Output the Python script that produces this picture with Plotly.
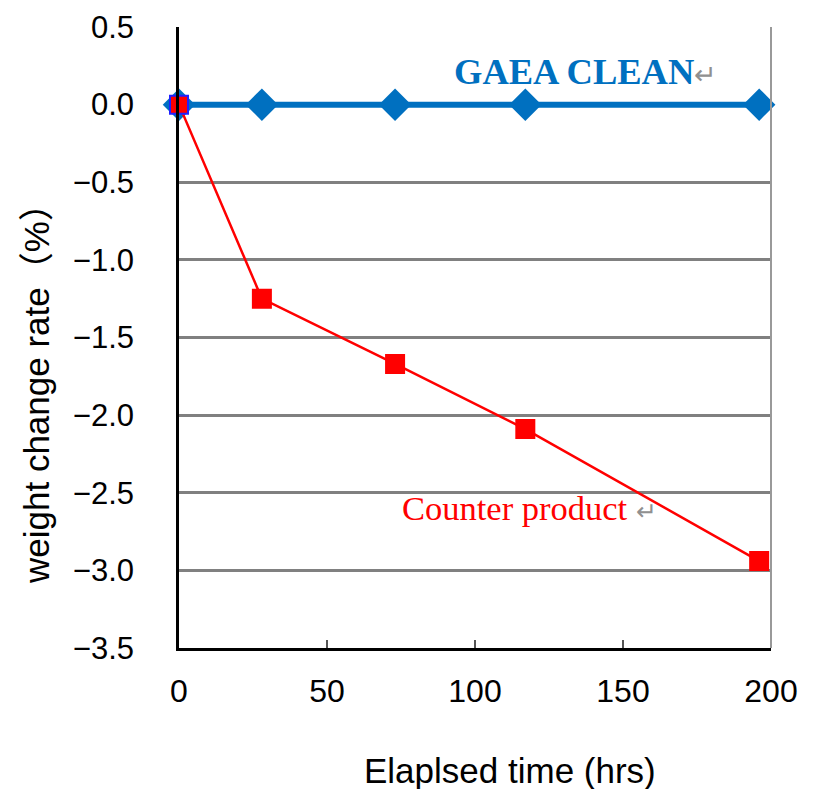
import plotly.graph_objects as go

hours = [0, 28, 73, 117, 196]
gaea_clean = [0.0, 0.0, 0.0, 0.0, 0.0]
counter_product = [0.0, -1.25, -1.67, -2.09, -2.94]

x_ticks = [0, 50, 100, 150, 200]
y_ticks = [0.5, 0.0, -0.5, -1.0, -1.5, -2.0, -2.5, -3.0, -3.5]

# page-pixel helpers (page has 8px body margin)
PL, PR, PT, PB = 179, 771, 27, 648
W, H = 817, 789
OFF = 8


def px_x(p):
    return (p - PL) / (PR - PL)


def px_y(p):
    return (PB - p) / (PB - PT)


def dx(p):
    return (p - PL) / (PR - PL) * 200


def dy(p):
    return 0.5 - (p - PT) / (PB - PT) * 4.0


fig = go.Figure()
fig.add_trace(go.Scatter(
    x=hours, y=gaea_clean, mode="lines+markers", name="GAEA CLEAN",
    line=dict(color="#0070C0", width=6),
    marker=dict(symbol="diamond", size=25, color="#0070C0"),
    cliponaxis=False,
))
fig.add_trace(go.Scatter(
    x=hours, y=counter_product, mode="lines+markers", name="Counter product",
    line=dict(color="#FF0000", width=2.5),
    marker=dict(symbol="square", size=18, color="#FF0000",
                line=dict(color=["#2020FF", "#FF0000", "#FF0000", "#FF0000", "#FF0000"], width=2)),
    cliponaxis=False,
))

fig.add_annotation(
    x=dx(452), y=dy(71), xref="x", yref="y", showarrow=False,
    text='<b>GAEA CLEAN</b><span style="color:#909090;font-size:27px">↵</span>',
    xanchor="left", yanchor="middle",
    font=dict(family="Liberation Serif", size=36.5, color="#0070C0"),
)
fig.add_annotation(
    x=dx(400), y=dy(508), xref="x", yref="y", showarrow=False,
    text='Counter product <span style="color:#909090;font-size:25px">↵</span>',
    xanchor="left", yanchor="middle",
    font=dict(family="Liberation Serif", size=34.5, color="#FF0000"),
)
# axis titles
fig.add_annotation(
    x=px_x(510), y=px_y(770), xref="paper", yref="paper", showarrow=False,
    text="Elaplsed time (hrs)", xanchor="center", yanchor="middle",
    font=dict(family="Liberation Sans", size=35, color="black"),
)
fig.add_annotation(
    x=px_x(36), y=px_y(385), xref="paper", yref="paper", showarrow=False,
    text="weight change rate（%）", textangle=-90, xanchor="center", yanchor="middle",
    font=dict(family="Liberation Sans, Noto Sans CJK JP", size=35, color="black"),
)

fig.update_layout(
    width=W, height=H,
    margin=dict(l=PL - OFF, r=W - (PR - OFF), t=PT - OFF, b=H - (PB - OFF)),
    paper_bgcolor="white", plot_bgcolor="white",
    showlegend=False,
    font=dict(family="Liberation Sans", size=31, color="black"),
)
fig.update_xaxes(
    range=[0, 200], tickvals=x_ticks, showgrid=False,
    showline=True, linecolor="black", linewidth=2.5,
    ticks="inside", ticklen=8, tickwidth=1.5, tickcolor="#555555",
    tickfont=dict(size=32), zeroline=False, ticklabelstandoff=13,
    ticklabeloverflow="allow", automargin=False,
)
fig.update_yaxes(
    range=[-3.5, 0.5], tickvals=y_ticks, tickformat=".1f",
    showgrid=True, gridcolor="#808080", gridwidth=2.5,
    showline=True, linecolor="black", linewidth=2.5,
    ticks="", tickfont=dict(size=31), zeroline=False, ticklabelstandoff=36,
    ticklabeloverflow="allow", automargin=False,
)
# right border
fig.add_shape(type="line", xref="paper", yref="paper", x0=1, x1=1, y0=0, y1=1,
              line=dict(color="#999999", width=2))

fig.write_html("out.html")
